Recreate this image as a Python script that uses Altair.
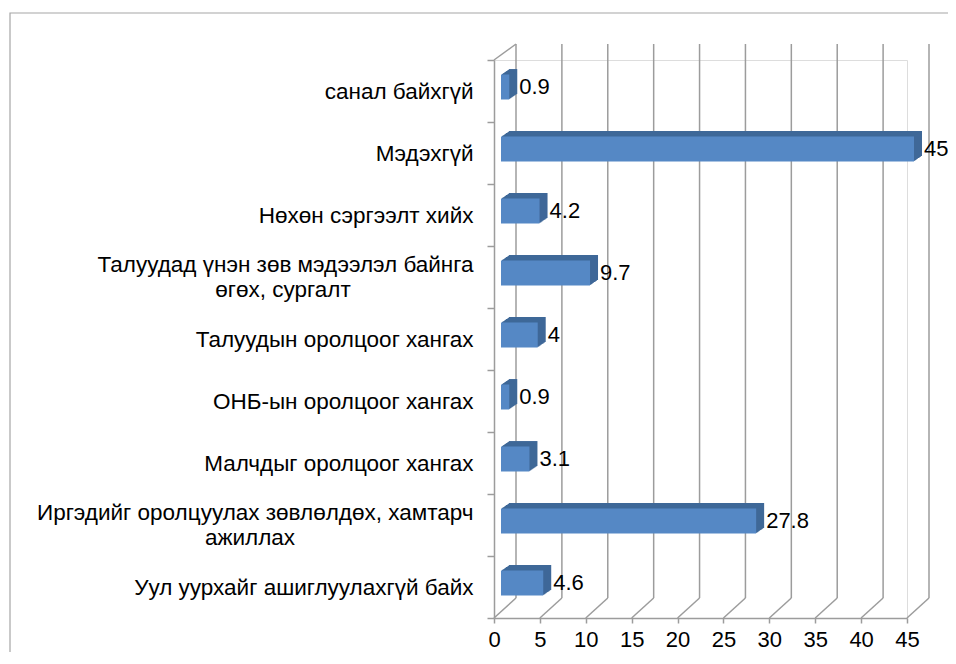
import altair as alt
import pandas as pd

# ---- data ----
categories = [
    "санал байхгүй",
    "Мэдэхгүй",
    "Нөхөн сэргээлт хийх",
    "Талуудад үнэн зөв мэдээлэл байнга өгөх, сургалт",
    "Талуудын оролцоог хангах",
    "ОНБ-ын оролцоог хангах",
    "Малчдыг оролцоог хангах",
    "Иргэдийг оролцуулах зөвлөлдөх, хамтарч ажиллах",
    "Уул уурхайг ашиглуулахгүй байх",
]
values = [0.9, 45, 4.2, 9.7, 4, 0.9, 3.1, 27.8, 4.6]
x_ticks = [0, 5, 10, 15, 20, 25, 30, 35, 40, 45]

# wrapped category labels: first line on the axis, second line centred under it
wrapped = ["Талуудад үнэн зөв мэдээлэл байнга өгөх, сургалт",
           "Иргэдийг оролцуулах зөвлөлдөх, хамтарч ажиллах"]
first_lines = ["Талуудад үнэн зөв мэдээлэл байнга",
               "Иргэдийг оролцуулах зөвлөлдөх, хамтарч"]
second_lines = ["өгөх, сургалт", "ажиллах"]

df = pd.DataFrame({"cat": categories, "value": values})
ticks_df = pd.DataFrame({"t": x_ticks})
wrap_df = pd.DataFrame({"cat": wrapped, "line2": second_lines})

# ---- styling ----
W, H = 413, 558
FONT = "Liberation Sans"
FS = 22.5
FS_X = 22
FS_VAL = 22
GRID = "#9C9C9C"
GW = 1.5
FRONT = "#5588C5"
SIDE = "#3F6898"
WALL_DX = 22
BAR_DX, BAR_DY = 7, -4
DEPTH = 8
LINE_GAP = 13
SECOND_CENTRES = [-211, -244]   # centre of each second line, px left of the axis

expr = ""
for k, s in zip(wrapped, first_lines):
    expr += f"datum.label == '{k}' ? '{s}' : "
expr += "datum.label"
wrap_test = " || ".join(f"datum.value == '{k}'" for k in wrapped)

xscale = alt.Scale(domain=[0, 45], nice=False)
yscale = alt.Scale(paddingInner=0, paddingOuter=0)

x_axis = alt.Axis(
    values=x_ticks,
    grid=False,
    tickSize=5,
    tickColor=GRID,
    domainColor=GRID,
    domainWidth=GW,
    tickWidth=GW,
    labelPadding=6,
    labelFont=FONT,
    labelFontSize=FS_X,
    labelColor="#000000",
    labelFlush=False,
)
y_axis = alt.Axis(
    grid=False,
    tickBand="extent",
    tickSize=7,
    tickColor=GRID,
    domainColor=GRID,
    domainWidth=GW,
    tickWidth=GW,
    labelPadding=14,
    labelFont=FONT,
    labelFontSize=FS,
    labelColor="#000000",
    labelLimit=1000,
    labelExpr=expr,
    labelOffset={"condition": {"test": wrap_test, "value": -LINE_GAP}, "value": 0},
)

X_val = alt.X("value:Q", scale=xscale, title=None, axis=x_axis)
Y_cat = alt.Y("cat:N", sort=categories, scale=yscale, title=None, axis=y_axis)
X_t = alt.X("t:Q", scale=xscale, title=None, axis=x_axis)

base = alt.Chart(df)

front = base.mark_bar(
    color=FRONT, size=25, xOffset=BAR_DX, x2Offset=BAR_DX, yOffset=BAR_DY, y2Offset=BAR_DY
).encode(x=X_val, y=Y_cat)

frame = alt.Chart(ticks_df).transform_filter("datum.t == 0").mark_rect(
    fillOpacity=0, stroke="#A6A6A6", strokeWidth=1.2
).encode(
    x=alt.value(-484), x2=alt.value(480), y=alt.value(-47), y2=alt.value(700)
)

back_grid = alt.Chart(ticks_df).mark_rule(
    color=GRID, strokeWidth=GW, xOffset=WALL_DX
).encode(x=X_t, y=alt.value(-16), y2=alt.value(H - 20))

floor_diag = alt.Chart(ticks_df).mark_rule(
    color=GRID, strokeWidth=GW, x2Offset=WALL_DX
).encode(x=X_t, x2="t:Q", y=alt.value(H), y2=alt.value(H - 20))

top_diag = alt.Chart(ticks_df).transform_filter("datum.t == 0").mark_rule(
    color=GRID, strokeWidth=GW, x2Offset=WALL_DX
).encode(x=X_t, x2="t:Q", y=alt.value(0), y2=alt.value(-16))

layers = [frame, back_grid, floor_diag, top_diag]

for i in range(DEPTH, 0, -1):
    ox = BAR_DX + i
    oy = BAR_DY - i * 0.68
    layers.append(
        base.mark_bar(
            color=SIDE, size=25, xOffset=ox, x2Offset=ox, yOffset=oy, y2Offset=oy
        ).encode(x=X_val, y=Y_cat)
    )

layers.append(front)

labels = base.mark_text(
    align="left", baseline="middle", dx=17, dy=BAR_DY, font=FONT, fontSize=FS_VAL, color="#000000"
).encode(x=X_val, y=Y_cat, text=alt.Text("value:Q"))
layers.append(labels)

for cat, cx in zip(wrapped, SECOND_CENTRES):
    layers.append(
        alt.Chart(wrap_df).transform_filter(alt.datum.cat == cat).mark_text(
            align="center", baseline="middle", dy=LINE_GAP, font=FONT, fontSize=FS, color="#000000"
        ).encode(x=alt.value(cx), y=Y_cat, text="line2:N")
    )

chart = alt.layer(*layers).properties(
    width=W,
    height=H,
    autosize=alt.AutoSizeParams(type="none"),
    padding={"left": 486, "top": 52, "right": 41, "bottom": 34},
).configure_view(stroke="#ffffff", strokeWidth=0, fill="white").configure(background="white")

chart.save("out.html", embed_options={"renderer": "svg", "actions": False})
